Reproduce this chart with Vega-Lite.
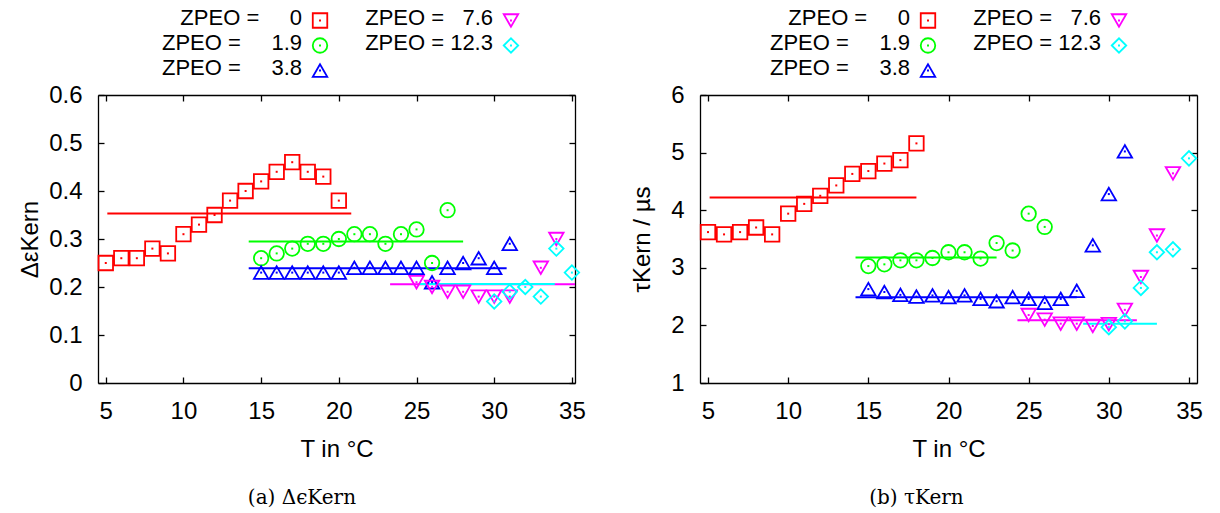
{
  "$schema": "https://vega.github.io/schema/vega-lite/v6.json",
  "padding": {"left": 18, "top": 6, "right": 5, "bottom": 2},
  "datasets": {
    "leg": [
      {"Z":"0","col":"c1","row":"r1","lab":"ZPEO =\u00a0\u00a0\u00a0\u00a0\u00a00\u00a0\u00a0\u00a0"},
      {"Z":"1.9","col":"c1","row":"r2","lab":"ZPEO =\u00a0\u00a0\u00a0\u00a0\u00a01.9"},
      {"Z":"3.8","col":"c1","row":"r3","lab":"ZPEO =\u00a0\u00a0\u00a0\u00a0\u00a03.8"},
      {"Z":"7.6","col":"c2","row":"r1","lab":"ZPEO =\u00a0\u00a0\u00a07.6"},
      {"Z":"12.3","col":"c2","row":"r2","lab":"ZPEO = 12.3"}
    ],
    "pts": [
      {"p":"a","Z":"0","T":5,"v":0.25},{"p":"a","Z":"0","T":6,"v":0.26},{"p":"a","Z":"0","T":7,"v":0.26},{"p":"a","Z":"0","T":8,"v":0.28},{"p":"a","Z":"0","T":9,"v":0.27},{"p":"a","Z":"0","T":10,"v":0.31},{"p":"a","Z":"0","T":11,"v":0.33},{"p":"a","Z":"0","T":12,"v":0.35},{"p":"a","Z":"0","T":13,"v":0.38},{"p":"a","Z":"0","T":14,"v":0.40},{"p":"a","Z":"0","T":15,"v":0.42},{"p":"a","Z":"0","T":16,"v":0.44},{"p":"a","Z":"0","T":17,"v":0.46},{"p":"a","Z":"0","T":18,"v":0.44},{"p":"a","Z":"0","T":19,"v":0.43},{"p":"a","Z":"0","T":20,"v":0.38},
      {"p":"a","Z":"1.9","T":15,"v":0.26},{"p":"a","Z":"1.9","T":16,"v":0.27},{"p":"a","Z":"1.9","T":17,"v":0.28},{"p":"a","Z":"1.9","T":18,"v":0.29},{"p":"a","Z":"1.9","T":19,"v":0.29},{"p":"a","Z":"1.9","T":20,"v":0.30},{"p":"a","Z":"1.9","T":21,"v":0.31},{"p":"a","Z":"1.9","T":22,"v":0.31},{"p":"a","Z":"1.9","T":23,"v":0.29},{"p":"a","Z":"1.9","T":24,"v":0.31},{"p":"a","Z":"1.9","T":25,"v":0.32},{"p":"a","Z":"1.9","T":26,"v":0.25},{"p":"a","Z":"1.9","T":27,"v":0.36},
      {"p":"a","Z":"3.8","T":15,"v":0.23},{"p":"a","Z":"3.8","T":16,"v":0.23},{"p":"a","Z":"3.8","T":17,"v":0.23},{"p":"a","Z":"3.8","T":18,"v":0.23},{"p":"a","Z":"3.8","T":19,"v":0.23},{"p":"a","Z":"3.8","T":20,"v":0.23},{"p":"a","Z":"3.8","T":21,"v":0.24},{"p":"a","Z":"3.8","T":22,"v":0.24},{"p":"a","Z":"3.8","T":23,"v":0.24},{"p":"a","Z":"3.8","T":24,"v":0.24},{"p":"a","Z":"3.8","T":25,"v":0.24},{"p":"a","Z":"3.8","T":26,"v":0.21},{"p":"a","Z":"3.8","T":27,"v":0.24},{"p":"a","Z":"3.8","T":28,"v":0.25},{"p":"a","Z":"3.8","T":29,"v":0.26},{"p":"a","Z":"3.8","T":30,"v":0.24},{"p":"a","Z":"3.8","T":31,"v":0.29},
      {"p":"a","Z":"7.6","T":25,"v":0.21},{"p":"a","Z":"7.6","T":26,"v":0.20},{"p":"a","Z":"7.6","T":27,"v":0.19},{"p":"a","Z":"7.6","T":28,"v":0.19},{"p":"a","Z":"7.6","T":29,"v":0.18},{"p":"a","Z":"7.6","T":30,"v":0.18},{"p":"a","Z":"7.6","T":31,"v":0.18},{"p":"a","Z":"7.6","T":33,"v":0.24},{"p":"a","Z":"7.6","T":34,"v":0.30},
      {"p":"a","Z":"12.3","T":30,"v":0.17},{"p":"a","Z":"12.3","T":31,"v":0.19},{"p":"a","Z":"12.3","T":32,"v":0.20},{"p":"a","Z":"12.3","T":33,"v":0.18},{"p":"a","Z":"12.3","T":34,"v":0.28},{"p":"a","Z":"12.3","T":35,"v":0.23},
      {"p":"b","Z":"0","T":5,"v":3.62},{"p":"b","Z":"0","T":6,"v":3.58},{"p":"b","Z":"0","T":7,"v":3.62},{"p":"b","Z":"0","T":8,"v":3.70},{"p":"b","Z":"0","T":9,"v":3.58},{"p":"b","Z":"0","T":10,"v":3.94},{"p":"b","Z":"0","T":11,"v":4.11},{"p":"b","Z":"0","T":12,"v":4.25},{"p":"b","Z":"0","T":13,"v":4.43},{"p":"b","Z":"0","T":14,"v":4.63},{"p":"b","Z":"0","T":15,"v":4.68},{"p":"b","Z":"0","T":16,"v":4.81},{"p":"b","Z":"0","T":17,"v":4.87},{"p":"b","Z":"0","T":18,"v":5.16},
      {"p":"b","Z":"1.9","T":15,"v":3.03},{"p":"b","Z":"1.9","T":16,"v":3.06},{"p":"b","Z":"1.9","T":17,"v":3.13},{"p":"b","Z":"1.9","T":18,"v":3.13},{"p":"b","Z":"1.9","T":19,"v":3.17},{"p":"b","Z":"1.9","T":20,"v":3.27},{"p":"b","Z":"1.9","T":21,"v":3.27},{"p":"b","Z":"1.9","T":22,"v":3.16},{"p":"b","Z":"1.9","T":23,"v":3.43},{"p":"b","Z":"1.9","T":24,"v":3.30},{"p":"b","Z":"1.9","T":25,"v":3.94},{"p":"b","Z":"1.9","T":26,"v":3.71},
      {"p":"b","Z":"3.8","T":15,"v":2.63},{"p":"b","Z":"3.8","T":16,"v":2.58},{"p":"b","Z":"3.8","T":17,"v":2.53},{"p":"b","Z":"3.8","T":18,"v":2.50},{"p":"b","Z":"3.8","T":19,"v":2.52},{"p":"b","Z":"3.8","T":20,"v":2.49},{"p":"b","Z":"3.8","T":21,"v":2.52},{"p":"b","Z":"3.8","T":22,"v":2.46},{"p":"b","Z":"3.8","T":23,"v":2.42},{"p":"b","Z":"3.8","T":24,"v":2.49},{"p":"b","Z":"3.8","T":25,"v":2.46},{"p":"b","Z":"3.8","T":26,"v":2.39},{"p":"b","Z":"3.8","T":27,"v":2.46},{"p":"b","Z":"3.8","T":28,"v":2.60},{"p":"b","Z":"3.8","T":29,"v":3.39},{"p":"b","Z":"3.8","T":30,"v":4.28},{"p":"b","Z":"3.8","T":31,"v":5.02},
      {"p":"b","Z":"7.6","T":25,"v":2.18},{"p":"b","Z":"7.6","T":26,"v":2.10},{"p":"b","Z":"7.6","T":27,"v":2.03},{"p":"b","Z":"7.6","T":28,"v":2.03},{"p":"b","Z":"7.6","T":29,"v":1.99},{"p":"b","Z":"7.6","T":30,"v":2.02},{"p":"b","Z":"7.6","T":31,"v":2.27},{"p":"b","Z":"7.6","T":32,"v":2.84},{"p":"b","Z":"7.6","T":33,"v":3.56},{"p":"b","Z":"7.6","T":34,"v":4.64},
      {"p":"b","Z":"12.3","T":30,"v":1.97},{"p":"b","Z":"12.3","T":31,"v":2.07},{"p":"b","Z":"12.3","T":32,"v":2.65},{"p":"b","Z":"12.3","T":33,"v":3.27},{"p":"b","Z":"12.3","T":34,"v":3.32},{"p":"b","Z":"12.3","T":35,"v":4.90}
    ],
    "fits": [
      {"p":"a","Z":"0","x1":5.1,"x2":20.8,"y":0.353},
      {"p":"a","Z":"1.9","x1":14.2,"x2":28,"y":0.295},
      {"p":"a","Z":"3.8","x1":14.2,"x2":30.8,"y":0.239},
      {"p":"a","Z":"7.6","x1":23.3,"x2":35.2,"y":0.2056},
      {"p":"a","Z":"12.3","x1":25.2,"x2":33.9,"y":0.206},
      {"p":"b","Z":"0","x1":5.1,"x2":18,"y":4.22},
      {"p":"b","Z":"1.9","x1":14.2,"x2":23,"y":3.18},
      {"p":"b","Z":"3.8","x1":14.2,"x2":28,"y":2.49},
      {"p":"b","Z":"7.6","x1":24.3,"x2":31.75,"y":2.09},
      {"p":"b","Z":"12.3","x1":28.4,"x2":33,"y":2.03}
    ]
  },
  "hconcat": [
    {
      "spacing": 0,
      "vconcat": [
        {
          "width": 477,
          "height": 75,
          "data": {"name": "leg"},
          "encoding": {
            "x": {"field": "col", "type": "nominal", "axis": null, "scale": {"type": "point", "domain": ["c1","c2"], "padding": 0.749}},
            "y": {"field": "row", "type": "nominal", "axis": null, "scale": {"type": "point", "domain": ["r1","r2","r3"], "padding": 0.5}}
          },
          "layer": [
            {"mark": {"type": "text", "align": "right", "baseline": "middle", "xOffset": 61, "yOffset": -3, "font": "Liberation Sans", "fontSize": 22, "color": "#000"},
             "encoding": {"text": {"field": "lab"}}},
            {"mark": {"type": "point", "filled": false, "strokeWidth": 1.8, "size": 210, "opacity": 1, "xOffset": 79},
             "encoding": {
               "color": {"field": "Z", "type": "nominal", "scale": {"domain": ["0","1.9","3.8","7.6","12.3"], "range": ["#ff0000","#00ff00","#0000ff","#ff00ff","#00ffff"]}, "legend": null},
               "shape": {"field": "Z", "type": "nominal", "scale": {"domain": ["0","1.9","3.8","7.6","12.3"], "range": ["square","circle","triangle-up","triangle-down","diamond"]}, "legend": null}
             }},
            {"mark": {"type": "square", "size": 4, "opacity": 1, "xOffset": 79},
             "encoding": {"fill": {"field": "Z", "type": "nominal", "scale": {"domain": ["0","1.9","3.8","7.6","12.3"], "range": ["#ff0000","#00ff00","#0000ff","#ff00ff","#00ffff"]}, "legend": null}}}
          ]
        },
        {
          "width": 477,
          "height": 288,
          "title": {"text": "(a) ΔϵKern", "orient": "bottom", "frame": "bounds", "anchor": "middle", "font": "DejaVu Serif", "fontSize": 20, "fontWeight": "normal", "offset": 27},
          "resolve": {"axis": {"x": "independent", "y": "independent"}},
          "layer": [
            {
              "data": {"name": "fits"},
              "transform": [{"filter": "datum.p == 'a'"}],
              "mark": {"type": "rule", "strokeWidth": 2},
              "encoding": {
                "x": {"field": "x1", "type": "quantitative", "scale": {"domain": [4.5, 35.2], "nice": false, "zero": false}, "axis": {"orient": "top", "labels": false, "title": null, "values": [5,10,15,20,25,30,35]}},
                "x2": {"field": "x2"},
                "y": {"field": "y", "type": "quantitative", "scale": {"domain": [0, 0.6], "nice": false, "zero": false}, "axis": {"orient": "right", "labels": false, "title": null, "values": [0,0.1,0.2,0.3,0.4,0.5,0.6]}},
                "stroke": {"field": "Z", "type": "nominal", "scale": {"domain": ["0","1.9","3.8","7.6","12.3"], "range": ["#ff0000","#00ff00","#0000ff","#ff00ff","#00ffff"]}, "legend": null}
              }
            },
            {
              "data": {"name": "pts"},
              "transform": [{"filter": "datum.p == 'a'"}],
              "mark": {"type": "point", "filled": false, "strokeWidth": 1.8, "size": 210, "opacity": 1},
              "encoding": {
                "x": {"field": "T", "type": "quantitative", "scale": {"domain": [4.5, 35.2], "nice": false, "zero": false}, "axis": {"orient": "bottom", "title": "T in °C", "values": [5,10,15,20,25,30,35], "format": "d"}},
                "y": {"field": "v", "type": "quantitative", "scale": {"domain": [0, 0.6], "nice": false, "zero": false}, "axis": {"orient": "left", "title": "ΔεKern", "titlePadding": 6, "values": [0,0.1,0.2,0.3,0.4,0.5,0.6], "format": "~g"}},
                "color": {"field": "Z", "type": "nominal", "scale": {"domain": ["0","1.9","3.8","7.6","12.3"], "range": ["#ff0000","#00ff00","#0000ff","#ff00ff","#00ffff"]}, "legend": null},
                "shape": {"field": "Z", "type": "nominal", "scale": {"domain": ["0","1.9","3.8","7.6","12.3"], "range": ["square","circle","triangle-up","triangle-down","diamond"]}, "legend": null}
              }
            },
            {
              "data": {"name": "pts"},
              "transform": [{"filter": "datum.p == 'a'"}],
              "mark": {"type": "square", "size": 4, "opacity": 1},
              "encoding": {
                "x": {"field": "T", "type": "quantitative", "axis": null},
                "y": {"field": "v", "type": "quantitative", "axis": null},
                "fill": {"field": "Z", "type": "nominal", "scale": {"domain": ["0","1.9","3.8","7.6","12.3"], "range": ["#ff0000","#00ff00","#0000ff","#ff00ff","#00ffff"]}, "legend": null}
              }
            }
          ]
        }
      ]
    },
    {
      "spacing": 0,
      "vconcat": [
        {
          "width": 497,
          "height": 75,
          "data": {"name": "leg"},
          "encoding": {
            "x": {"field": "col", "type": "nominal", "axis": null, "scale": {"type": "point", "domain": ["c1","c2"], "padding": 0.801}},
            "y": {"field": "row", "type": "nominal", "axis": null, "scale": {"type": "point", "domain": ["r1","r2","r3"], "padding": 0.5}}
          },
          "layer": [
            {"mark": {"type": "text", "align": "right", "baseline": "middle", "xOffset": 57, "yOffset": -3, "font": "Liberation Sans", "fontSize": 22, "color": "#000"},
             "encoding": {"text": {"field": "lab"}}},
            {"mark": {"type": "point", "filled": false, "strokeWidth": 1.8, "size": 210, "opacity": 1, "xOffset": 75},
             "encoding": {
               "color": {"field": "Z", "type": "nominal", "scale": {"domain": ["0","1.9","3.8","7.6","12.3"], "range": ["#ff0000","#00ff00","#0000ff","#ff00ff","#00ffff"]}, "legend": null},
               "shape": {"field": "Z", "type": "nominal", "scale": {"domain": ["0","1.9","3.8","7.6","12.3"], "range": ["square","circle","triangle-up","triangle-down","diamond"]}, "legend": null}
             }},
            {"mark": {"type": "square", "size": 4, "opacity": 1, "xOffset": 75},
             "encoding": {"fill": {"field": "Z", "type": "nominal", "scale": {"domain": ["0","1.9","3.8","7.6","12.3"], "range": ["#ff0000","#00ff00","#0000ff","#ff00ff","#00ffff"]}, "legend": null}}}
          ]
        },
        {
          "width": 497,
          "height": 288,
          "title": {"text": "(b) τKern", "orient": "bottom", "frame": "bounds", "anchor": "middle", "font": "DejaVu Serif", "fontSize": 20, "fontWeight": "normal", "offset": 27},
          "resolve": {"axis": {"x": "independent", "y": "independent"}},
          "layer": [
            {
              "data": {"name": "fits"},
              "transform": [{"filter": "datum.p == 'b'"}],
              "mark": {"type": "rule", "strokeWidth": 2},
              "encoding": {
                "x": {"field": "x1", "type": "quantitative", "scale": {"domain": [4.5, 35.5], "nice": false, "zero": false}, "axis": {"orient": "top", "labels": false, "title": null, "values": [5,10,15,20,25,30,35]}},
                "x2": {"field": "x2"},
                "y": {"field": "y", "type": "quantitative", "scale": {"domain": [1, 6], "nice": false, "zero": false}, "axis": {"orient": "right", "labels": false, "title": null, "values": [1,2,3,4,5,6]}},
                "stroke": {"field": "Z", "type": "nominal", "scale": {"domain": ["0","1.9","3.8","7.6","12.3"], "range": ["#ff0000","#00ff00","#0000ff","#ff00ff","#00ffff"]}, "legend": null}
              }
            },
            {
              "data": {"name": "pts"},
              "transform": [{"filter": "datum.p == 'b'"}],
              "mark": {"type": "point", "filled": false, "strokeWidth": 1.8, "size": 210, "opacity": 1},
              "encoding": {
                "x": {"field": "T", "type": "quantitative", "scale": {"domain": [4.5, 35.5], "nice": false, "zero": false}, "axis": {"orient": "bottom", "title": "T in °C", "values": [5,10,15,20,25,30,35], "format": "d"}},
                "y": {"field": "v", "type": "quantitative", "scale": {"domain": [1, 6], "nice": false, "zero": false}, "axis": {"orient": "left", "title": "τKern / µs", "titlePadding": 16, "values": [1,2,3,4,5,6], "format": "d"}},
                "color": {"field": "Z", "type": "nominal", "scale": {"domain": ["0","1.9","3.8","7.6","12.3"], "range": ["#ff0000","#00ff00","#0000ff","#ff00ff","#00ffff"]}, "legend": null},
                "shape": {"field": "Z", "type": "nominal", "scale": {"domain": ["0","1.9","3.8","7.6","12.3"], "range": ["square","circle","triangle-up","triangle-down","diamond"]}, "legend": null}
              }
            },
            {
              "data": {"name": "pts"},
              "transform": [{"filter": "datum.p == 'b'"}],
              "mark": {"type": "square", "size": 4, "opacity": 1},
              "encoding": {
                "x": {"field": "T", "type": "quantitative", "axis": null},
                "y": {"field": "v", "type": "quantitative", "axis": null},
                "fill": {"field": "Z", "type": "nominal", "scale": {"domain": ["0","1.9","3.8","7.6","12.3"], "range": ["#ff0000","#00ff00","#0000ff","#ff00ff","#00ffff"]}, "legend": null}
              }
            }
          ]
        }
      ]
    }
  ],
  "spacing": 44,
  "config": {
    "font": "Liberation Sans",
    "view": {"stroke": null},
    "axis": {"labelFont": "Liberation Sans", "labelFontSize": 24, "labelColor": "#000", "titleFont": "Liberation Sans", "titleFontSize": 24, "titleFontWeight": "normal", "titleColor": "#000", "domainColor": "#000", "domainWidth": 1.3, "tickColor": "#000", "tickWidth": 1.3, "tickSize": -6, "grid": false, "labelPadding": 22},
    "axisX": {"titlePadding": 14},
    "title": {"color": "#000"}
  }
}
